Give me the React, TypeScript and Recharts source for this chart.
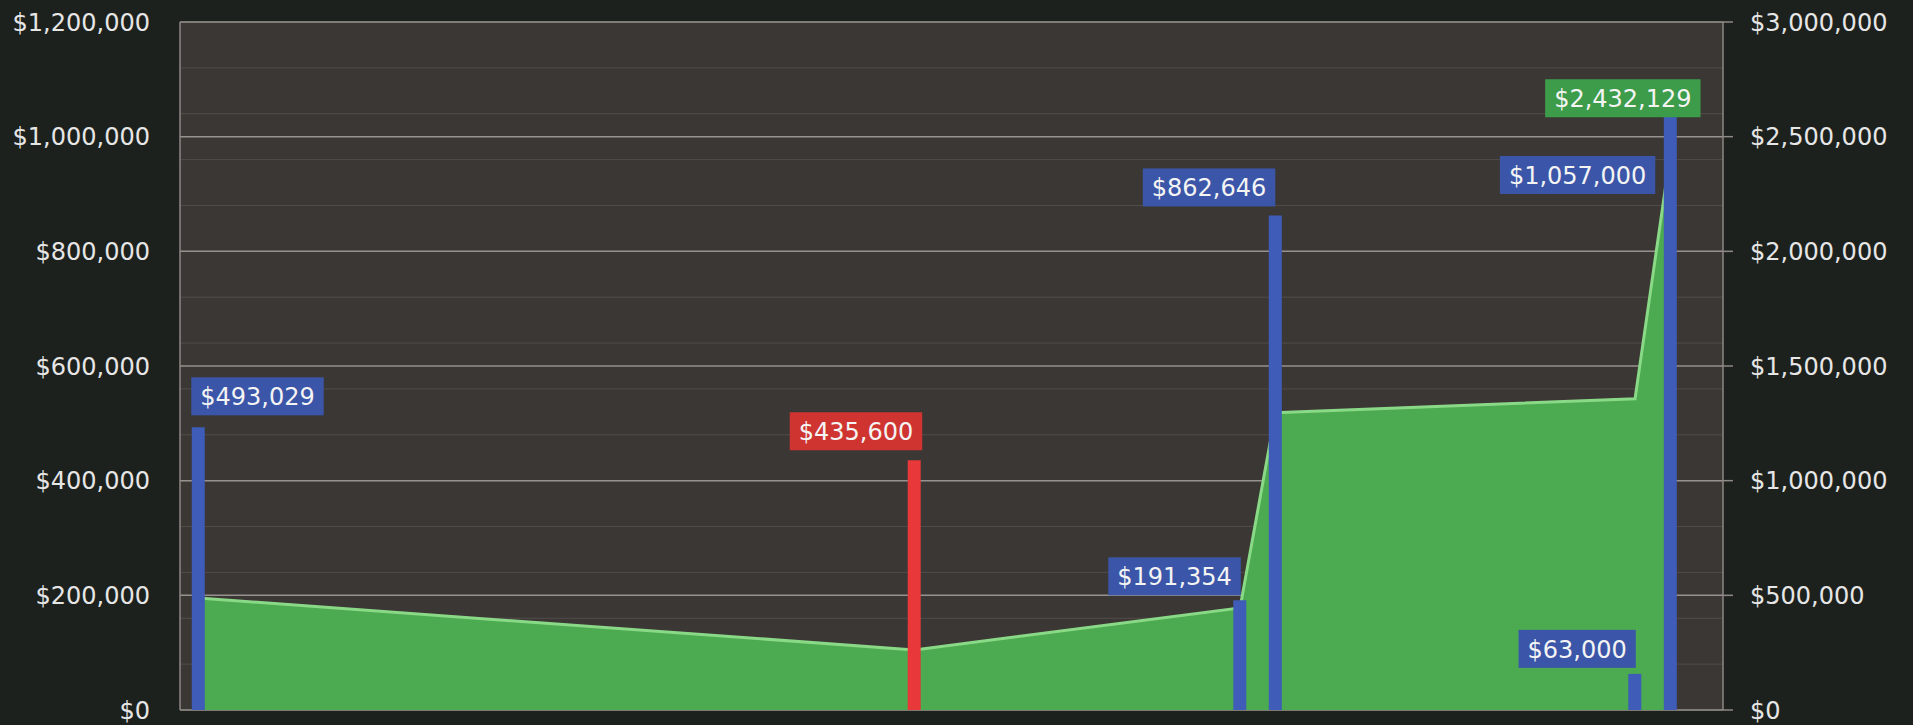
import {
  ComposedChart,
  Bar,
  Area,
  XAxis,
  YAxis,
  CartesianGrid,
  Cell,
  LabelList,
} from 'recharts';

// =============================================================================
// Data
// =============================================================================

// position on the time axis (0 = left edge of plot, 100 = right edge)
const periods = [1.2, 47.6, 68.7, 71.0, 94.3, 96.6];
const flows = [493029, 435600, 191354, 862646, 63000, 1057000];
const flowKinds = ['in', 'out', 'in', 'in', 'in', 'in'];
const balances = [488000, 262000, 445000, 1296000, 1357000, 2432129];

const leftTicks = [0, 200000, 400000, 600000, 800000, 1000000, 1200000];
const rightTicks = [0, 500000, 1000000, 1500000, 2000000, 2500000, 3000000];

// =============================================================================
// Styling
// =============================================================================

const FONT = '"DejaVu Sans", Verdana, sans-serif';
const FONT_SIZE = 24;
const PAGE_BG = '#1d211e';
const PLOT_BG = '#3b3735';
const BLUE = '#3e5cb8';
const RED = '#e8383a';
const GREEN = '#4caa50';

const BOX_COLORS: Record<string, string> = {
  in: '#3b56a8',
  out: '#cf3431',
};

// how each bar label box sits relative to its bar
const FLOW_LABEL_PLACE = [
  { align: 'start', dx: -7, gap: 12 },
  { align: 'end', dx: 8, gap: 10 },
  { align: 'end', dx: 1, gap: 5 },
  { align: 'end', dx: 0, gap: 9 },
  { align: 'end', dx: 1, gap: 6 },
  { align: 'end', dx: -15, gap: -90 },
];

const minorGrid = Array.from({ length: 31 }, (_, i) => i * 40000);

// =============================================================================
// Helpers
// =============================================================================

function money(v: number): string {
  return '$' + v.toLocaleString('en-US');
}

function boxWidth(s: string): number {
  let w = 0;
  for (const ch of s) w += ch === ',' ? 0.318 : 0.636;
  return w * FONT_SIZE + 18;
}

function ValueBox({ x, y, text, fill }: any) {
  const w = boxWidth(text);
  const h = 38;
  return (
    <g>
      <rect x={x} y={y} width={w} height={h} fill={fill} />
      <text
        x={x + w / 2}
        y={y + h / 2 + 1}
        textAnchor="middle"
        dominantBaseline="central"
        fill="#f4f4f4"
        fontFamily={FONT}
        fontSize={FONT_SIZE}
      >
        {text}
      </text>
    </g>
  );
}

function FlowLabel(props: any) {
  const { x, y, width, value, index } = props;
  if (value == null) return null;
  const place = FLOW_LABEL_PLACE[index];
  const text = money(value);
  const w = boxWidth(text);
  const cx = x + width / 2;
  const left = place.align === 'start' ? cx + place.dx : cx + place.dx - w;
  const top = y - place.gap - 38;
  return <ValueBox x={left} y={top} text={text} fill={BOX_COLORS[flowKinds[index]]} />;
}

function BalanceLabel(props: any) {
  const { x, y, value, index } = props;
  if (index !== balances.length - 1) return null;
  const text = money(value);
  const w = boxWidth(text);
  return <ValueBox x={x + 30 - w} y={y - 33 - 40} text={text} fill="#3d9c4a" />;
}

// =============================================================================
// Component
// =============================================================================

export default function App() {
  const data = periods.map((t, i) => ({
    t,
    flow: flows[i],
    balance: balances[i],
  }));

  const tickStyle = { fill: '#e6e6e6', fontSize: FONT_SIZE, fontFamily: FONT };

  return (
    <div
      style={{
        position: 'absolute',
        left: 0,
        top: 0,
        width: 1913,
        height: 725,
        background: PAGE_BG,
      }}
    >
      <ComposedChart
        width={1913}
        height={725}
        data={data}
        margin={{ top: 22, right: 0, bottom: 15, left: 0 }}
      >
        <CartesianGrid
          yAxisId="left"
          fill={PLOT_BG}
          vertical={false}
          horizontalValues={minorGrid}
          stroke="#524d4a"
          strokeWidth={1}
        />
        <CartesianGrid
          yAxisId="left"
          vertical={false}
          horizontalValues={leftTicks}
          stroke="#97928d"
          strokeWidth={1.5}
        />
        <XAxis dataKey="t" type="number" domain={[0, 100]} hide />
        <YAxis
          yAxisId="left"
          orientation="left"
          width={180}
          domain={[0, 1200000]}
          ticks={leftTicks}
          tickFormatter={money}
          tick={tickStyle}
          tickLine={false}
          tickSize={6}
          tickMargin={24}
          axisLine={{ stroke: '#8e8985', strokeWidth: 1.5 }}
        />
        <YAxis
          yAxisId="right"
          orientation="right"
          width={190}
          domain={[0, 3000000]}
          ticks={rightTicks}
          tickFormatter={money}
          tick={tickStyle}
          tickLine={{ stroke: '#8e8985', strokeWidth: 1.5 }}
          tickSize={10}
          tickMargin={17}
          axisLine={{ stroke: '#8e8985', strokeWidth: 1.5 }}
        />
        <Area
          yAxisId="right"
          type="linear"
          dataKey="balance"
          fill={GREEN}
          fillOpacity={1}
          stroke="#8ad987"
          strokeWidth={3}
          isAnimationActive={false}
        >
          <LabelList dataKey="balance" content={BalanceLabel} />
        </Area>
        <Bar yAxisId="left" dataKey="flow" barSize={13} isAnimationActive={false}>
          {data.map((_, i) => (
            <Cell key={i} fill={flowKinds[i] === 'out' ? RED : BLUE} />
          ))}
          <LabelList dataKey="flow" content={FlowLabel} />
        </Bar>
      </ComposedChart>
    </div>
  );
}
